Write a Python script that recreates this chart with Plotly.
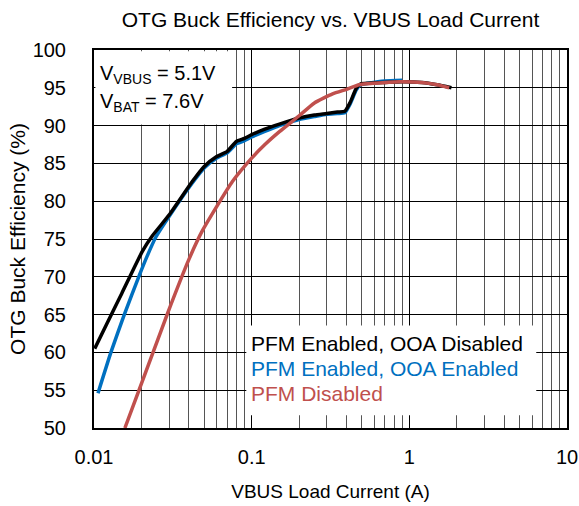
import plotly.graph_objects as go

# 데이터
names = ['PFM Enabled, OOA Disabled', 'PFM Enabled, OOA Enabled', 'PFM Disabled']
colors = ['#000000', '#0070C0', '#C0504D']

black_x = [0.0101, 0.012, 0.015, 0.0203, 0.0234, 0.030, 0.042, 0.05, 0.06, 0.07, 0.08, 0.09,
           0.1, 0.12, 0.15, 0.2, 0.25, 0.3, 0.35, 0.39, 0.42, 0.46, 0.49, 0.55, 0.7, 0.9, 1.2, 1.5, 1.85]
black_y = [60.5, 63.7, 67.8, 73.4, 75.4, 78.2, 82.6, 84.6, 85.9, 86.6, 87.9, 88.3,
           88.8, 89.5, 90.2, 91.0, 91.4, 91.6, 91.8, 91.9, 93.0, 94.9, 95.5, 95.6, 95.7, 95.8, 95.7, 95.4, 95.0]

blue_x = [0.0106, 0.0128, 0.0155, 0.0193, 0.0218, 0.0246, 0.03, 0.042, 0.05, 0.06, 0.07, 0.08, 0.09,
          0.1, 0.12, 0.15, 0.2, 0.25, 0.3, 0.35, 0.39, 0.42, 0.46, 0.49, 0.55, 0.7, 0.9]
blue_y = [54.6, 60.0, 64.9, 70.1, 72.8, 75.2, 78.0, 82.4, 84.4, 85.7, 86.4, 87.6, 88.0,
          88.5, 89.2, 90.0, 90.8, 91.2, 91.5, 91.6, 91.7, 92.8, 94.7, 95.4, 95.6, 95.9, 96.0]

red_x = [0.0157, 0.0193, 0.0292, 0.040, 0.0487, 0.0755, 0.1, 0.12, 0.15, 0.2, 0.25, 0.326,
         0.4, 0.481, 0.6, 0.865, 1.2, 1.5, 1.79]
red_y = [50.0, 55.0, 65.1, 72.3, 76.1, 82.6, 85.7, 87.4, 89.2, 91.3, 93.0, 94.2,
         94.8, 95.4, 95.6, 95.8, 95.7, 95.4, 95.0]

y_ticks = [50, 55, 60, 65, 70, 75, 80, 85, 90, 95, 100]
x_ticks = [0.01, 0.1, 1, 10]
x_tick_labels = ['0.01', '0.1', '1', '10']

FONT = 'Arial, Liberation Sans, sans-serif'

fig = go.Figure()
# 그리는 순서: 파랑 -> 검정 -> 빨강
for xs, ys, i in [(blue_x, blue_y, 1), (black_x, black_y, 0), (red_x, red_y, 2)]:
    fig.add_trace(go.Scatter(
        x=xs, y=ys, mode='lines', name=names[i],
        line=dict(color=colors[i], width=3.5, shape='spline', smoothing=0.5),
    ))

# 범례 박스 (흰 배경 + 색 글자)
fig.add_shape(type='rect', xref='paper', yref='paper', x0=0.322, x1=0.935, y0=0.034, y1=0.271,
              fillcolor='white', line_width=0, layer='above')
for i, yy in enumerate([0.224, 0.158, 0.092]):
    fig.add_annotation(xref='paper', yref='paper', x=0.327, y=yy, text=names[i],
                       showarrow=False, xanchor='left', yanchor='middle',
                       font=dict(family=FONT, size=21, color=colors[i]))

# 조건 박스
fig.add_shape(type='rect', xref='paper', yref='paper', x0=0.003, x1=0.292, y0=0.803, y1=0.997,
              fillcolor='white', line_width=0, layer='above')
fig.add_annotation(xref='paper', yref='paper', x=0.008, y=0.934,
                   text='V<sub>VBUS</sub> = 5.1V', showarrow=False, xanchor='left', yanchor='middle',
                   font=dict(family=FONT, size=20, color='black'))
fig.add_annotation(xref='paper', yref='paper', x=0.008, y=0.862,
                   text='V<sub>BAT</sub> = 7.6V', showarrow=False, xanchor='left', yanchor='middle',
                   font=dict(family=FONT, size=20, color='black'))

fig.update_layout(
    width=579, height=506,
    margin=dict(l=94, r=12, t=50, b=78, autoexpand=False),
    paper_bgcolor='white', plot_bgcolor='white',
    showlegend=False,
    font=dict(family=FONT, size=20, color='black'),
    title=dict(text='OTG Buck Efficiency vs. VBUS Load Current', x=0.5, xref='paper',
               y=0.961, yanchor='middle', font=dict(size=21)),
)
fig.update_xaxes(
    type='log', range=[-2, 1], automargin=False,
    tickvals=x_ticks, ticktext=x_tick_labels,
    showgrid=True, gridcolor='black', gridwidth=1,
    minor=dict(showgrid=True, gridcolor='#555555', gridwidth=1, dtick='D1', ticks=''),
    showline=True, linecolor='black', linewidth=2, mirror=True,
    ticks='', ticklabelstandoff=10, ticklabeloverflow='allow',
    title=dict(text='VBUS Load Current (A)', standoff=18, font=dict(size=19)),
    zeroline=False,
)
fig.update_yaxes(
    range=[50, 100], tickvals=y_ticks, automargin=False,
    showgrid=True, gridcolor='black', gridwidth=1,
    showline=True, linecolor='black', linewidth=2, mirror=True,
    ticks='', ticklabelstandoff=22,
    title=dict(text='OTG Buck Efficiency (%)', standoff=1, font=dict(size=21)),
    zeroline=False,
)

# body 기본 여백 제거, 툴바 숨김
fig.write_html('out.html', config={'displayModeBar': False},
               post_script="document.body.style.margin='0';document.body.style.overflow='hidden';")
